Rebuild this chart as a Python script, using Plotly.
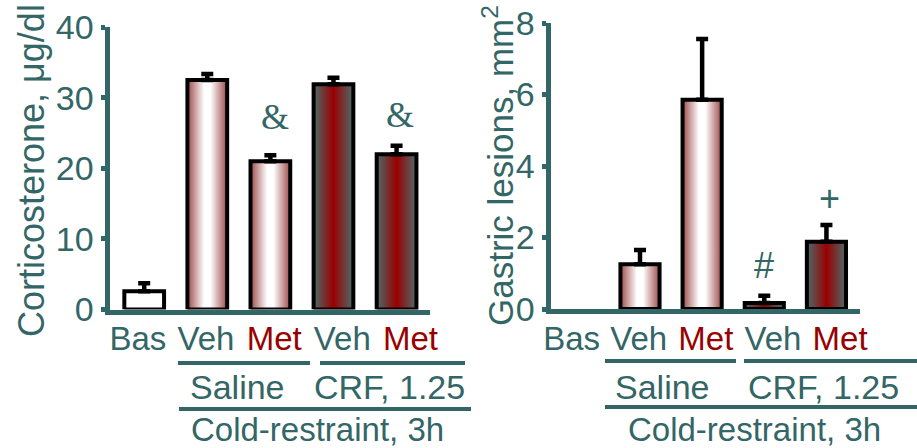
import plotly.graph_objects as go

# ---------------- data ----------------
categories = ["Bas", "Veh", "Met", "Veh", "Met"]
groups = ["Basal", "Saline", "Saline", "CRF", "CRF"]
cort_mean = [2.6, 32.5, 21.0, 31.9, 22.0]
cort_sem = [1.1, 0.85, 0.85, 0.9, 1.2]
lesion_mean = [0.0, 1.25, 5.85, 0.17, 1.88]
lesion_sem = [0.0, 0.40, 1.70, 0.20, 0.47]
cort_ticks = [0, 10, 20, 30, 40]
lesion_ticks = [0, 2, 4, 6, 8]
group_labels = ["Saline", "CRF, 1.25"]
outer_label = "Cold-restraint, 3h"
cort_title = "Corticosterone, μg/dl"
lesion_title = "Gastric lesions, mm<sup>2</sup>"

# ---------------- style ----------------
W, H = 917, 448
TEAL = "#336666"
RED = "#990000"
FONT = "Liberation Sans, Arial, sans-serif"
SERIF = "Liberation Serif, Times New Roman, serif"
BAR_W = 0.63
LABEL_SPREAD, LABEL_OFFSET = 1.08, -0.1

fills = {
    "Basal": None,
    "Saline": [[0, "#9e4a4a"], [0.42, "#ffffff"], [0.58, "#ffffff"], [1, "#9e4a4a"]],
    "CRF": [[0, "#4a6c6c"], [0.5, "#990000"], [1, "#4a6c6c"]],
}


def px(x):
    return x / W


def py(y):
    return 1 - y / H


fig = go.Figure()


def add_panel(means, sems, xa, ya):
    for i, (m, g) in enumerate(zip(means, groups)):
        if m <= 0:
            continue
        xs = [i - BAR_W / 2, i - BAR_W / 2, i + BAR_W / 2, i + BAR_W / 2, i - BAR_W / 2]
        ys = [0, m, m, 0, 0]
        kw = dict(x=xs, y=ys, xaxis=xa, yaxis=ya, mode="lines", fill="toself",
                  line=dict(color="black", width=4), hoverinfo="skip", showlegend=False)
        if fills[g] is None:
            kw["fillcolor"] = "white"
        else:
            kw["fillgradient"] = dict(type="horizontal", colorscale=fills[g])
        fig.add_trace(go.Scatter(**kw))
    fig.add_trace(go.Scatter(
        x=list(range(len(means))),
        y=[m if s > 0 else None for m, s in zip(means, sems)],
        xaxis=xa, yaxis=ya, mode="markers",
        marker=dict(size=1, color="rgba(0,0,0,0)"),
        error_y=dict(type="data", symmetric=False, array=sems,
                     arrayminus=[0] * len(sems), color="black", thickness=4.5, width=6),
        hoverinfo="skip", showlegend=False))


add_panel(cort_mean, cort_sem, "x", "y")
add_panel(lesion_mean, lesion_sem, "x2", "y2")

ticktext = [f"<span style='color:{RED}'>{c}</span>" if c == "Met" else c for c in categories]
tickvals = [LABEL_OFFSET + LABEL_SPREAD * i for i in range(len(categories))]

yax = dict(showline=True, linecolor=TEAL, linewidth=5, showgrid=False, zeroline=False,
           ticks="outside", tickcolor=TEAL, tickwidth=5, ticklen=4,
           tickfont=dict(family=FONT, size=34, color=TEAL), automargin=False, fixedrange=True)
xax = dict(showline=True, linecolor=TEAL, linewidth=5, showgrid=False, zeroline=False,
           ticks="", tickvals=tickvals, ticktext=ticktext, ticklabelstandoff=-4,
           tickfont=dict(family=FONT, size=33, color=TEAL), automargin=False, fixedrange=True)

fig.update_layout(
    width=W, height=H, margin=dict(l=0, r=0, t=0, b=0),
    paper_bgcolor="white", plot_bgcolor="white", showlegend=False,
    font=dict(family=FONT, color=TEAL),
    xaxis=dict(domain=[px(109.5), px(430)], range=[-0.55, 4.53], anchor="y", **xax),
    yaxis=dict(domain=[py(309.5), py(27)], range=[0, 40], tickvals=cort_ticks, anchor="x", **yax),
    xaxis2=dict(domain=[px(550.5), px(860)], range=[-0.44, 4.54], anchor="y2", **xax),
    yaxis2=dict(domain=[py(309), py(23)], range=[0, 8], tickvals=lesion_ticks, anchor="x2", **yax),
)

shapes = []
# group brackets (pixel positions converted to paper coordinates)
for x0, x1, y in [(178, 310, 363), (320, 465, 363), (179, 471, 409),
                  (605, 736, 361), (744, 917, 361), (605, 917, 407)]:
    shapes.append(dict(type="line", xref="paper", yref="paper",
                       x0=px(x0), x1=px(x1), y0=py(y), y1=py(y),
                       line=dict(color=TEAL, width=4)))
fig.update_layout(shapes=shapes)

ann = []
for text, x, y, sz in [(group_labels[0], 237, 386.5, 34), (group_labels[1], 389, 386.5, 34),
                       (outer_label, 317, 429, 33),
                       (group_labels[0], 662, 386.5, 34), (group_labels[1], 823, 386.5, 34),
                       (outer_label, 754, 429, 33)]:
    ann.append(dict(text=text, x=px(x), y=py(y), xref="paper", yref="paper",
                    xanchor="center", yanchor="middle", showarrow=False,
                    font=dict(family=FONT, size=sz, color=TEAL)))
ann.append(dict(text=cort_title, x=px(31), y=py(171), xref="paper", yref="paper", textangle=-90,
                xanchor="center", yanchor="middle", showarrow=False,
                font=dict(family=FONT, size=36, color=TEAL)))
ann.append(dict(text=lesion_title, x=px(498), y=py(166), xref="paper", yref="paper", textangle=-90,
                xanchor="center", yanchor="middle", showarrow=False,
                font=dict(family=FONT, size=35, color=TEAL)))
# significance marks
for text, x, y, xr, yr, fam, sz in [("&", 2.08, 27.3, "x", "y", SERIF, 36),
                                     ("&", 4.05, 27.5, "x", "y", SERIF, 36),
                                     ("#", 3.0, 1.23, "x2", "y2", FONT, 36),
                                     ("+", 4.05, 3.1, "x2", "y2", FONT, 36)]:
    ann.append(dict(text=text, x=x, y=y, xref=xr, yref=yr, xanchor="center", yanchor="middle",
                    showarrow=False, font=dict(family=fam, size=sz, color=TEAL)))
fig.update_layout(annotations=ann)

fig.write_html("out.html", config={"displayModeBar": False},
               post_script="document.body.style.margin='0';")
